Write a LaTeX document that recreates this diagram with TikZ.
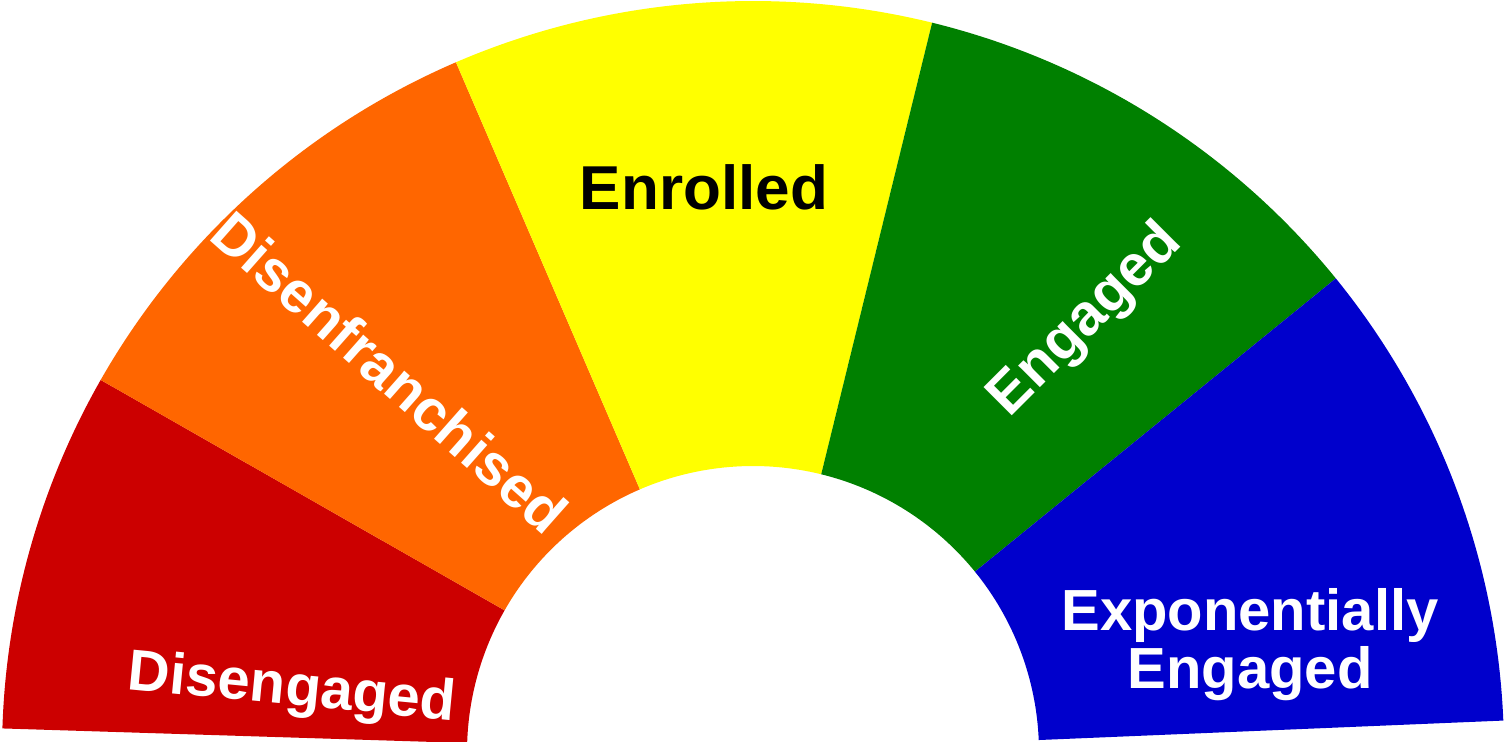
\documentclass[tikz,border=0pt]{standalone}
\usepackage{fontspec}
\setmainfont{Liberation Sans}
\def\rin{286}
\def\rout{751}
\definecolor{redband}{HTML}{CC0000}
\definecolor{orangeband}{HTML}{FF6600}
\definecolor{yellowband}{HTML}{FFFF00}
\definecolor{greenband}{HTML}{008000}
\definecolor{blueband}{HTML}{0000CC}

\begin{document}
\begin{tikzpicture}[x=0.5pt, y=0.5pt,
  bandtext/.style={font=\fontsize{29}{29}\selectfont\bfseries, text=white, inner sep=0pt}]
\useasboundingbox (0,0) rectangle (1504,741);
\coordinate (C) at (753,-11);
% the five bands of the half ring
\foreach \a/\b/\col in {178.2/150.3/redband, 150.3/113.3/orangeband, 113.3/76.2/yellowband,
                        76.2/39.1/greenband, 39.1/2.4/blueband}
  \fill[\col] ([shift={(C)}]\a:\rout) arc[start angle=\a, end angle=\b, radius=\rout]
    -- ([shift={(C)}]\b:\rin) arc[start angle=\b, end angle=\a, radius=\rin] -- cycle;
\node[bandtext, rotate=-5.5] (disengaged) at (292,51) {Disengaged};
\node[bandtext, rotate=-41.5] (disenfranchised) at (390,369) {Disenfranchised};
\node[bandtext, text=black, font=\fontsize{31}{31}\selectfont\bfseries] (enrolled) at (704,554) {Enrolled};
\node[bandtext, rotate=45] (engaged) at (1086,420) {Engaged};
\node[bandtext, align=center] (expengaged) at (1250,96) {Exponentially\\Engaged};
\end{tikzpicture}
\end{document}
